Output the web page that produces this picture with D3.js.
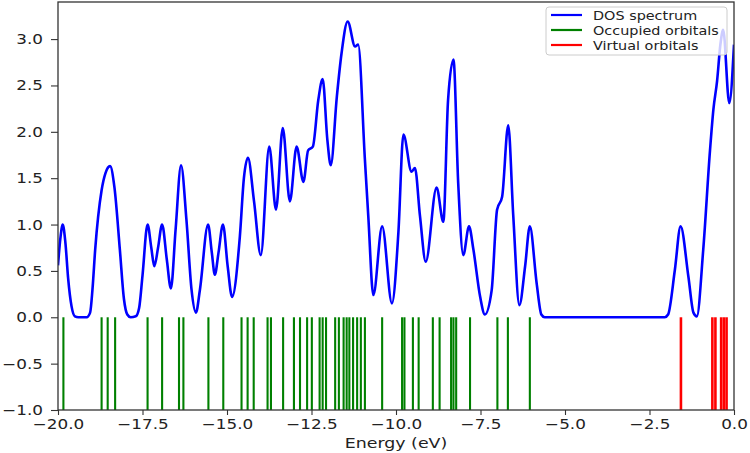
<html>
<head>
<meta charset="UTF-8"/>
<script src="https://d3js.org/d3.v7.min.js"></script>
<title>DOS spectrum</title>
<style>
body { margin:0; background:#fff; }
text { font-family: 'DejaVu Sans', sans-serif; fill:#222; }
.axis path { display:none; }
.axis line { stroke:#333; stroke-width:1.1; }
</style>
</head>
<body>
<svg id='big' width=750 height=453></svg>
<script>
'use strict';

// orbital energies (eV)
var occupied = [-19.84, -18.71, -18.53, -18.31, -17.35, -16.92, -16.42, -16.29,
	-15.55, -15.11, -14.57, -14.39, -14.21, -13.80, -13.70, -13.34, -13.02, -12.84,
	-12.63, -12.49, -12.26, -12.17, -12.07, -11.80, -11.69, -11.55, -11.46, -11.38,
	-11.27, -11.15, -11.04, -10.92, -10.41, -9.82, -9.75, -9.50, -9.33, -8.91,
	-8.71, -8.37, -8.30, -8.22, -7.81, -7.00, -6.69, -6.04];
var virtual = [-1.57, -0.64, -0.55, -0.38, -0.30, -0.22];

// DOS curve, [energy, value] read at peaks, valleys and shoulders
var dos = [[-20.00,0.56],[-19.93,0.85],[-19.86,1.00],[-19.78,0.80],[-19.70,0.42],
	[-19.60,0.12],[-19.50,0.01],[-19.40,0.00],[-19.15,0.00],[-19.05,0.05],
	[-18.98,0.30],[-18.90,0.73],[-18.71,1.37],[-18.60,1.55],[-18.46,1.63],
	[-18.33,1.40],[-18.17,0.73],[-18.05,0.20],[-17.95,0.03],[-17.85,0.00],
	[-17.70,0.01],[-17.60,0.10],[-17.50,0.45],[-17.35,1.00],[-17.24,0.75],
	[-17.15,0.55],[-17.04,0.75],[-16.92,1.00],[-16.78,0.62],[-16.66,0.31],
	[-16.52,0.95],[-16.36,1.64],[-16.20,1.05],[-16.05,0.30],[-15.92,0.05],
	[-15.80,0.30],[-15.56,1.00],[-15.45,0.70],[-15.36,0.46],[-15.25,0.70],
	[-15.12,1.00],[-14.98,0.55],[-14.85,0.22],[-14.62,0.87],[-14.50,1.50],
	[-14.38,1.72],[-14.20,1.25],[-14.00,0.67],[-13.75,1.84],[-13.55,1.16],
	[-13.35,2.04],[-13.14,1.25],[-12.94,1.84],[-12.74,1.46],[-12.60,1.80],
	[-12.46,1.84],[-12.30,2.34],[-12.17,2.57],[-12.03,1.91],[-11.93,1.64],
	[-11.75,2.38],[-11.61,2.85],[-11.43,3.19],[-11.21,2.92],[-11.12,2.94],
	[-10.92,1.70],[-10.82,1.09],[-10.67,0.24],[-10.41,0.98],[-10.12,0.15],
	[-9.93,0.91],[-9.78,1.97],[-9.54,1.57],[-9.44,1.61],[-9.29,1.09],
	[-9.12,0.60],[-8.80,1.40],[-8.60,1.03],[-8.46,2.34],[-8.30,2.78],
	[-8.16,1.45],[-8.01,0.67],[-7.84,0.98],[-7.71,0.73],[-7.51,0.22],
	[-7.37,0.03],[-7.17,0.29],[-7.01,1.16],[-6.86,1.30],[-6.68,2.07],
	[-6.53,1.09],[-6.35,0.13],[-6.18,0.55],[-6.04,0.98],[-5.84,0.37],
	[-5.70,0.03],[-5.60,0.00],[-2.05,0.00],[-1.95,0.03],[-1.75,0.51],
	[-1.58,0.98],[-1.35,0.44],[-1.20,0.05],[-1.10,0.01],[-0.91,0.73],
	[-0.71,1.80],[-0.61,2.24],[-0.50,2.55],[-0.40,2.95],[-0.32,3.10],
	[-0.14,2.31],[0.00,2.94]];

var xTicks = [-20, -17.5, -15, -12.5, -10, -7.5, -5, -2.5, 0];
var yTicks = [-1, -0.5, 0, 0.5, 1, 1.5, 2, 2.5, 3];
var legendItems = [['DOS spectrum','#0000ff'],['Occupied orbitals','#008000'],['Virtual orbitals','#ff0000']];

var svg = d3.select('#big');
var mLeft = 58, mRight = 734, mTop = 2, mBottom = 410;
var stretch = 'scale(1.2,1)';

var sx = d3.scaleLinear().domain([-20, 0]).range([mLeft, mRight]);
var sy = d3.scaleLinear().domain([-1, 3.4]).range([mBottom, mTop]);

svg.append('clipPath').attr('id','plot')
.append('rect')
.attr('x', mLeft).attr('y', mTop)
.attr('width', mRight-mLeft).attr('height', mBottom-mTop);

var sticks = svg.append('g').attr('clip-path','url(#plot)');

sticks.selectAll('.occ')
.data(occupied)
.enter()
.append('line')
.attr('class','occ')
.attr('x1', function(d){return sx(d)})
.attr('x2', function(d){return sx(d)})
.attr('y1', sy(0))
.attr('y2', sy(-1))
.attr('stroke','#008000')
.attr('stroke-width',2.1);

sticks.selectAll('.virt')
.data(virtual)
.enter()
.append('line')
.attr('class','virt')
.attr('x1', function(d){return sx(d)})
.attr('x2', function(d){return sx(d)})
.attr('y1', sy(0))
.attr('y2', sy(-1))
.attr('stroke','#ff0000')
.attr('stroke-width',2.6);

var line = d3.line()
.x(function(d){return sx(d[0])})
.y(function(d){return sy(d[1])})
.curve(d3.curveMonotoneX);

svg.append('path')
.datum(dos)
.attr('clip-path','url(#plot)')
.attr('d', line)
.attr('fill','none')
.attr('stroke','#0000ff')
.attr('stroke-width',2.6);

var xAxis = d3.axisBottom(sx).tickValues(xTicks).tickFormat(d3.format('.1f'))
.tickSize(5).tickPadding(4);
var yAxis = d3.axisLeft(sy).tickValues(yTicks).tickFormat(d3.format('.1f'))
.tickSize(7).tickPadding(4);

svg.append('g')
.attr('class','axis')
.attr('transform','translate(0,' + mBottom + ')')
.call(xAxis)
.selectAll('text')
.attr('font-size',14)
.attr('font-family','DejaVu Sans')
.attr('fill','#222')
.attr('transform', stretch);

svg.append('g')
.attr('class','axis')
.attr('transform','translate(' + mLeft + ',0)')
.call(yAxis)
.selectAll('text')
.attr('font-size',14)
.attr('font-family','DejaVu Sans')
.attr('fill','#222')
.attr('x', -15/1.2)
.attr('transform', stretch);

svg.append('rect')
.attr('x', mLeft).attr('y', mTop)
.attr('width', mRight-mLeft).attr('height', mBottom-mTop)
.attr('fill','none')
.attr('stroke','#333')
.attr('stroke-width',1.3);

svg.append('text')
.attr('transform','translate(' + (mLeft+mRight)/2 + ',448) ' + stretch)
.attr('text-anchor','middle')
.attr('font-size',14.5)
.text('Energy (eV)');

// legend
var lg = svg.append('g').attr('transform','translate(546,7)');
lg.append('rect')
.attr('width',181).attr('height',48)
.attr('rx',3)
.attr('fill','#fff').attr('fill-opacity',0.8)
.attr('stroke','#ccc');

var rows = lg.selectAll('.row')
.data(legendItems)
.enter()
.append('g')
.attr('class','row')
.attr('transform', function(d,i){return 'translate(0,' + (8 + i*15) + ')'});

rows.append('line')
.attr('x1',5).attr('x2',36)
.attr('stroke', function(d){return d[1]})
.attr('stroke-width',2.2);

rows.append('text')
.attr('transform','translate(47,4.5) ' + stretch)
.attr('font-size',12)
.text(function(d){return d[0]});
</script>
</body>
</html>
